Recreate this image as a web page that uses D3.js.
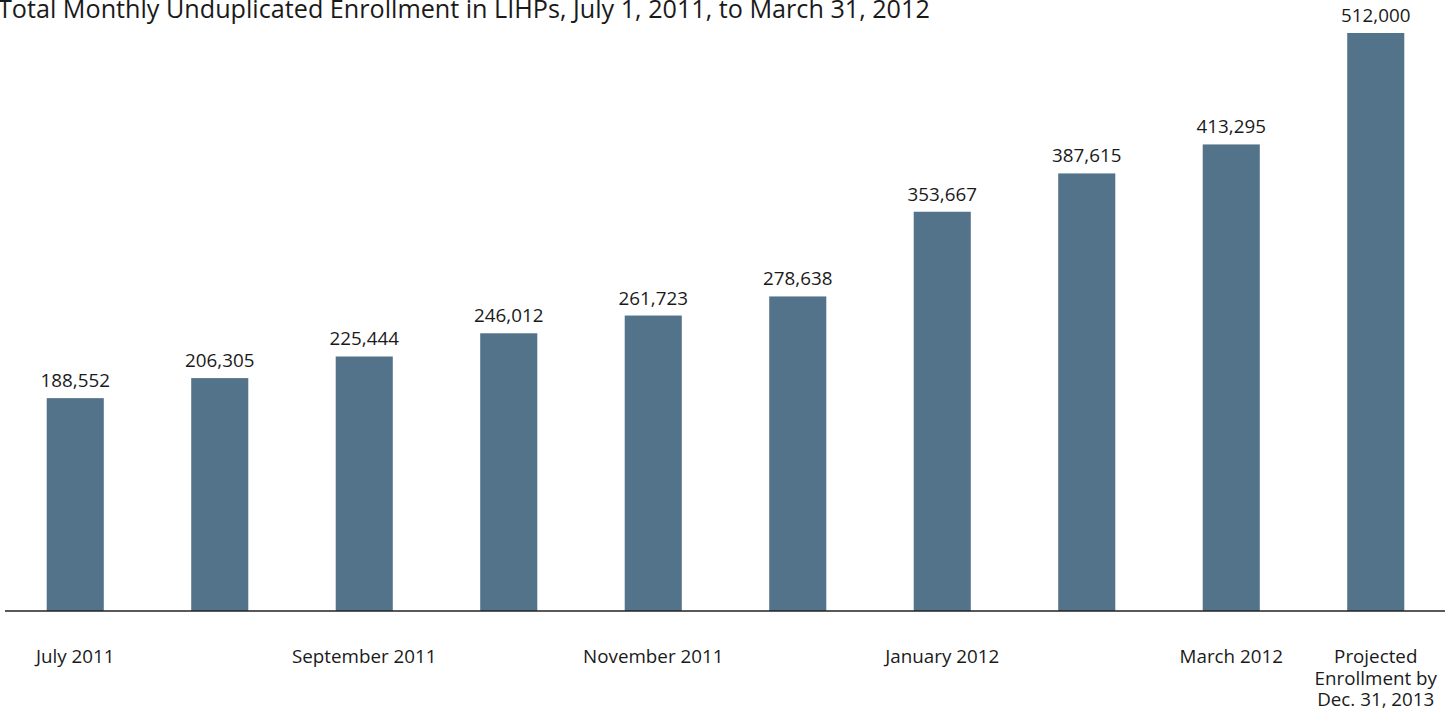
<!DOCTYPE html>
<html>
<head>
<meta charset="utf-8">
<script src="https://cdn.jsdelivr.net/npm/d3@7"></script>
<style>
  html, body { margin: 0; padding: 0; background: #fff; }
  svg { display: block; }
  text { font-family: "Open Sans", "Noto Sans", sans-serif; fill: #1a1a1a; }
</style>
</head>
<body>
<svg id="chart" width="1452" height="715"></svg>
<script>
const title = "Total Monthly Unduplicated Enrollment in LIHPs, July 1, 2011, to March 31, 2012";
const categories = ["Jul 2011", "Aug 2011", "Sep 2011", "Oct 2011", "Nov 2011", "Dec 2011", "Jan 2012", "Feb 2012", "Mar 2012", "Projected"];
const tickLabels = [["July 2011"], [], ["September 2011"], [], ["November 2011"], [], ["January 2012"], [], ["March 2012"], ["Projected", "Enrollment by", "Dec. 31, 2013"]];
const values = [188552, 206305, 225444, 246012, 261723, 278638, 353667, 387615, 413295, 512000];

const svg = d3.select("#chart");
const baseY = 611;

const x = d3.scaleBand().domain(categories).range([3, 1448]).paddingInner(0.605).paddingOuter(0.3025);
const y = d3.scaleLinear().domain([0, 512000]).range([baseY, 33]);

// title
const t = svg.append("text")
  .attr("x", -2).attr("y", 18)
  .style("font-size", "22px")
  .text(title);
const tl = t.node().getComputedTextLength();
t.style("font-size", (22 * 932 / tl).toFixed(2) + "px");

// bars
svg.append("g").selectAll("rect").data(values).join("rect")
  .attr("x", (d, i) => x(categories[i]))
  .attr("width", x.bandwidth())
  .attr("y", d => y(d))
  .attr("height", d => baseY - y(d))
  .attr("fill", "#52738a");

// value labels
const fmt = d3.format(",");
svg.append("g").selectAll("text").data(values).join("text")
  .attr("x", (d, i) => x(categories[i]) + x.bandwidth() / 2)
  .attr("y", d => y(d) - 11)
  .attr("text-anchor", "middle")
  .style("font-size", "18.8px")
  .text(d => fmt(d));

// axis baseline
svg.append("line")
  .attr("x1", 5).attr("x2", 1445)
  .attr("y1", baseY).attr("y2", baseY)
  .attr("stroke", "#222").attr("stroke-width", 1.6);

// category labels
const lg = svg.append("g");
tickLabels.forEach((lines, i) => {
  const cx = x(categories[i]) + x.bandwidth() / 2;
  lines.forEach((ln, j) => {
    lg.append("text")
      .attr("x", cx)
      .attr("y", 663 + j * 21.5)
      .attr("text-anchor", "middle")
      .style("font-size", "18.8px")
      .text(ln);
  });
});
</script>
</body>
</html>
